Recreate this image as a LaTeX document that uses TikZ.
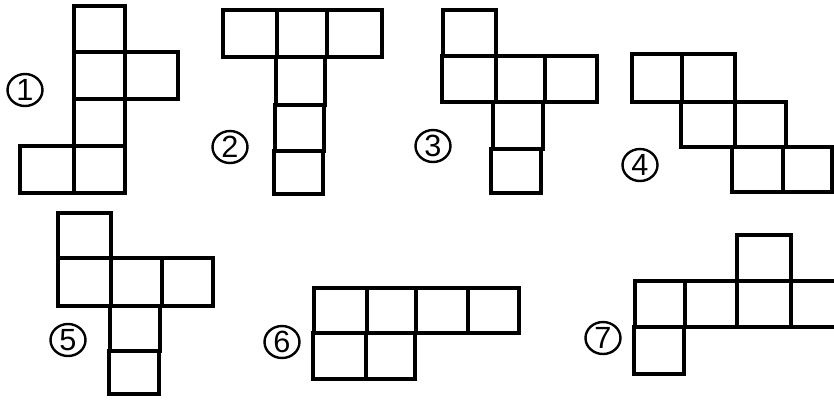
\documentclass[tikz,border=0pt]{standalone}
\usepackage{fontspec}
\setmainfont{Liberation Sans}
\begin{document}
\begin{tikzpicture}[x=0.75pt,y=-0.75pt,
  net/.style={draw=black,line width=2.3pt,line join=miter},
  ring/.style={draw=black,line width=1.8pt},
  num/.style={font=\fontsize{23}{23}\selectfont,inner sep=0pt}]
\useasboundingbox (0,0) rectangle (834,401);
% figure 1
\draw[net] (74,6) rectangle (125,52);
\draw[net] (74,52) rectangle (125,99);
\draw[net] (125,52) rectangle (178,99);
\draw[net] (74,99) rectangle (125,146);
\draw[net] (74,146) rectangle (125,193);
\draw[net] (20,146) rectangle (74,193);
% figure 2
\draw[net] (223,10) rectangle (277,57);
\draw[net] (277,10) rectangle (327,57);
\draw[net] (327,10) rectangle (382,57);
\draw[net] (276,57) rectangle (325,105);
\draw[net] (275,105) rectangle (324,151);
\draw[net] (274,151) rectangle (323,194);
% figure 3
\draw[net] (443,10) rectangle (496,56);
\draw[net] (442,56) rectangle (496,102);
\draw[net] (496,56) rectangle (545,102);
\draw[net] (545,56) rectangle (597,102);
\draw[net] (493,102) rectangle (543,149);
\draw[net] (491,149) rectangle (541,193);
% figure 4
\draw[net] (632,54) rectangle (682,102);
\draw[net] (682,54) rectangle (735,102);
\draw[net] (681,102) rectangle (735,147);
\draw[net] (735,102) rectangle (786,147);
\draw[net] (732,147) rectangle (783,192);
\draw[net] (783,147) rectangle (832,192);
% figure 5
\draw[net] (58,213) rectangle (111,258);
\draw[net] (58,258) rectangle (111,306);
\draw[net] (111,258) rectangle (162,306);
\draw[net] (162,258) rectangle (213,306);
\draw[net] (110,306) rectangle (160,351);
\draw[net] (109,351) rectangle (159,394);
% figure 6
\draw[net] (314,288) rectangle (367,333);
\draw[net] (367,288) rectangle (416,333);
\draw[net] (416,288) rectangle (468,333);
\draw[net] (468,288) rectangle (519,333);
\draw[net] (313,333) rectangle (366,379);
\draw[net] (366,333) rectangle (415,379);
% figure 7
\draw[net] (737,235) rectangle (791,281);
\draw[net] (635,281) rectangle (685,327);
\draw[net] (685,281) rectangle (737,327);
\draw[net] (737,281) rectangle (791,327);
\draw[net] (791,281) -- (840,281);
\draw[net] (791,327) -- (840,327);
\draw[net] (634,327) rectangle (684,374);
% circled numbers
\foreach \n/\cx/\cy in {1/25/90,2/230/147,3/433/146,4/640/165,5/68/340,6/282/342,7/603/338}{
  \draw[ring] (\cx,\cy) ellipse [x radius=17.5, y radius=16];
  \node[num] (n\n) at (\cx,\cy) {\n};
}
\end{tikzpicture}
\end{document}
